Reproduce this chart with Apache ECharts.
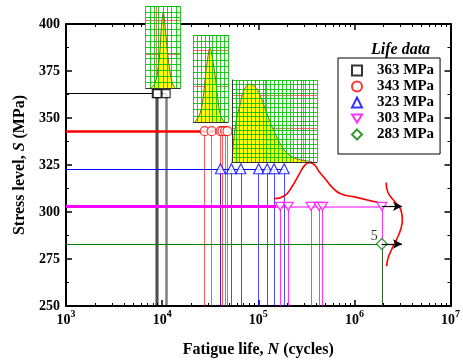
<!DOCTYPE html>
<html>
<head>
<meta charset="utf-8">
<script src="https://cdn.jsdelivr.net/npm/echarts@6/dist/echarts.min.js"></script>
<style>
html, body { margin: 0; padding: 0; background: #fff; }
#chart { width: 463px; height: 363px; }
</style>
</head>
<body>
<div id="chart"></div>
<script>
// fatigue lives (cycles) at each stress level (MPa)
var levels = ['363 MPa', '343 MPa', '323 MPa', '303 MPa', '283 MPa'];
var stress = [363, 343, 323, 303, 283];
var life363 = [8700, 8900, 11000];
var life343 = [27700, 32700, 40500, 42400, 45200, 47800];
var life323 = [40400, 52500, 65900, 101000, 124000, 146000, 186000];
var life303 = [169000, 205000, 354000, 428000, 466000, 1930000];
var life283 = [1930000];
var runoutCount = '5';

// axis ticks
var decades = [3, 4, 5, 6, 7];
var minorFactors = [2, 3, 4, 5, 6, 7, 8, 9];

// inset pdfs of log life, [log10 N, density]
var pdf363 = [[3.881, 0], [3.922, 0.06], [3.956, 0.26], [3.974, 0.46], [3.984, 0.67], [4.008, 0.915],
  [4.033, 0.67], [4.050, 0.46], [4.070, 0.26], [4.102, 0.06], [4.130, 0]];
var pdf343 = [[4.337, 0], [4.389, 0.10], [4.423, 0.29], [4.440, 0.48], [4.461, 0.675], [4.492, 0.847],
  [4.526, 0.675], [4.551, 0.48], [4.572, 0.29], [4.596, 0.10], [4.637, 0]];
var pdf323 = [[4.722, 0], [4.736, 0.25], [4.769, 0.533], [4.803, 0.695], [4.837, 0.857], [4.873, 0.93],
  [4.896, 0.948], [4.959, 0.918], [5.010, 0.817], [5.062, 0.655], [5.114, 0.491], [5.166, 0.35],
  [5.218, 0.228], [5.269, 0.134], [5.339, 0.065], [5.407, 0.033], [5.477, 0.016], [5.549, 0.005]];

// life pdf drawn over the 303 MPa line, [log10 N, S]
var lifePdf303 = [[5.166, 307.1], [5.269, 308.5], [5.355, 313.8], [5.425, 320.0], [5.477, 324.4],
  [5.528, 326.2], [5.580, 325.3], [5.632, 321.6], [5.702, 317.3], [5.767, 313.2], [5.857, 309.7],
  [6.012, 307.9], [6.254, 304.9]];
// strength pdf at the runout life, [log10 N, S]
var stressPdf = [[6.330, 315.7], [6.350, 310.4], [6.427, 305.1], [6.482, 301.4], [6.499, 296.1],
  [6.482, 290.8], [6.440, 285.5], [6.389, 280.2], [6.347, 274.9], [6.337, 271.2]];

var serif = '"Liberation Serif", "DejaVu Serif", serif';
var lg = function (n) { return Math.log10(n); };
var downTriangle = 'path://M0,0L2,0L1,1.6Z';

var minorTicks = [];
decades.slice(0, -1).forEach(function (d) {
  minorFactors.forEach(function (f) { minorTicks.push(d + Math.log10(f)); });
});

// main plot area
var plot = { left: 66, top: 24, width: 386, height: 283 };
var pxPerDecade = plot.width / (decades[decades.length - 1] - decades[0]);

function drops(arr, s, color, width, opacity) {
  return arr.map(function (n) {
    return [{ coord: [lg(n), s], lineStyle: { color: color, width: width, opacity: opacity, type: 'solid' } },
            { coord: [lg(n), 250] }];
  });
}
function hline(s, from, to, color, width, opacity) {
  return [{ coord: [from, s], lineStyle: { color: color, width: width, opacity: opacity, type: 'solid' } }, { coord: [to, s] }];
}
function markLines(data) {
  return {
    silent: true, symbol: ['none', 'none'], label: { show: false }, z: 1, animation: false,
    lineStyle: { type: 'solid' }, data: data
  };
}

function lifeSeries(name, arr, s, color, symbol, size, lines) {
  return {
    name: name, type: 'scatter', xAxisIndex: 0, yAxisIndex: 0, z: 3,
    data: arr.map(function (n) { return [lg(n), s]; }),
    symbol: symbol, symbolSize: size, symbolKeepAspect: true,
    itemStyle: { color: '#fff', borderColor: color, borderWidth: 1.2 },
    markLine: markLines(lines)
  };
}

// inset helpers
var insets = [
  { pdf: pdf363, min: 3.825, max: 4.185, step: 0.045, top: 6, height: 82, rows: 14, reds: [0.83, 0.415], redX: [3.943], left: false },
  { pdf: pdf343, min: 4.32, max: 4.68, step: 0.04, top: 35, height: 87, rows: 14, reds: [0.83, 0.41], redX: [4.482], left: false },
  { pdf: pdf323, min: 4.72, max: 5.6, step: 0.04, top: 80, height: 82, rows: 18, reds: [0.81, 0.41], redX: [4.959, 5.062, 5.456], left: true }
];

var grids = [{ left: plot.left, top: plot.top, width: plot.width, height: plot.height }];
var xAxes = [
  {
    type: 'value', gridIndex: 0, position: 'bottom', min: 3, max: 7, interval: 1,
    axisLine: { lineStyle: { color: '#000', width: 2 } },
    axisTick: { inside: true, length: 6, lineStyle: { color: '#000', width: 1.5 } },
    splitLine: { show: false },
    axisLabel: {
      margin: 3, color: '#000',
      formatter: function (v) { return '{b|10}{s|' + v + '}'; },
      rich: {
        b: { fontFamily: serif, fontSize: 14, fontWeight: 'bold', lineHeight: 22, color: '#000' },
        s: { fontFamily: serif, fontSize: 10, fontWeight: 'bold', verticalAlign: 'top', lineHeight: 12, color: '#000' }
      }
    },
    name: '{a|Fatigue life, }{i|N}{a| (cycles)}', nameLocation: 'middle', nameGap: 36,
    nameTextStyle: {
      rich: {
        a: { fontFamily: serif, fontSize: 16, fontWeight: 'bold', color: '#000' },
        i: { fontFamily: serif, fontSize: 16, fontWeight: 'bold', fontStyle: 'italic', color: '#000' }
      }
    }
  },
  {
    type: 'value', gridIndex: 0, position: 'bottom', min: 3, max: 7,
    axisLine: { show: false },
    axisTick: { inside: true, length: 3, customValues: minorTicks, lineStyle: { color: '#000', width: 1 } },
    axisLabel: { show: false }, splitLine: { show: false }
  },
  {
    type: 'value', gridIndex: 0, position: 'top', min: 3, max: 7, interval: 1,
    axisLine: { lineStyle: { color: '#000', width: 2 } },
    axisTick: { inside: true, length: 6, lineStyle: { color: '#000', width: 1.5 } },
    axisLabel: { show: false }, splitLine: { show: false }
  },
  {
    type: 'value', gridIndex: 0, position: 'top', min: 3, max: 7,
    axisLine: { show: false },
    axisTick: { inside: true, length: 3, customValues: minorTicks, lineStyle: { color: '#000', width: 1 } },
    axisLabel: { show: false }, splitLine: { show: false }
  }
];
var yAxes = [
  {
    type: 'value', gridIndex: 0, position: 'left', min: 250, max: 400, interval: 25,
    axisLine: { lineStyle: { color: '#000', width: 2 } },
    axisTick: { inside: true, length: 6, lineStyle: { color: '#000', width: 1.5 } },
    minorTick: { show: true, splitNumber: 2, length: 3, lineStyle: { color: '#000', width: 1 } },
    splitLine: { show: false },
    axisLabel: { margin: 6, color: '#000', fontFamily: serif, fontSize: 14, fontWeight: 'bold' },
    name: '{a|Stress level, }{i|S}{a| (MPa)}', nameLocation: 'middle', nameGap: 35,
    nameTextStyle: {
      rich: {
        a: { fontFamily: serif, fontSize: 16, fontWeight: 'bold', color: '#000' },
        i: { fontFamily: serif, fontSize: 16, fontWeight: 'bold', fontStyle: 'italic', color: '#000' }
      }
    }
  },
  {
    type: 'value', gridIndex: 0, position: 'right', min: 250, max: 400, interval: 25,
    axisLine: { lineStyle: { color: '#000', width: 2 } },
    axisTick: { inside: true, length: 6, lineStyle: { color: '#000', width: 1.5 } },
    minorTick: { show: true, splitNumber: 2, length: 3, lineStyle: { color: '#000', width: 1 } },
    splitLine: { show: false }, axisLabel: { show: false }
  }
];

var series = [
  lifeSeries(levels[0], life363, stress[0], '#000', 'rect', 8,
    [hline(stress[0], 3, lg(life363[life363.length - 1]), '#000', 1, 1)]
      .concat(drops(life363, stress[0], '#000', 2.5, 0.5))),
  lifeSeries(levels[1], life343, stress[1], '#ff0000', 'circle', 9,
    [hline(stress[1], 3, lg(life343[life343.length - 1]), '#ff0000', 2.5, 1)]
      .concat(drops(life343, stress[1], '#ff0000', 1, 0.65))),
  lifeSeries(levels[2], life323, stress[2], '#0000ff', 'triangle', 10,
    [hline(stress[2], 3, lg(life323[life323.length - 1]), '#0000ff', 1, 1)]
      .concat(drops(life323, stress[2], '#0000ff', 1, 0.7))),
  lifeSeries(levels[3], life303, stress[3], '#ff00ff', downTriangle, 10,
    [hline(stress[3], 3, lg(life303[0]) - 0.04, '#ff00ff', 3, 1),
     hline(stress[3], lg(life303[0]) - 0.04, lg(life303[life303.length - 1]), '#ff00ff', 2, 0.5)]
      .concat(drops(life303, stress[3], '#ff00ff', 1, 0.8))),
  lifeSeries(levels[4], life283, stress[4], '#008000', 'diamond', 11,
    [hline(stress[4], 3, lg(life283[0]), '#008000', 1, 1)]
      .concat(drops(life283, stress[4], '#2f5f2f', 1, 1)))
];
series[4].label = {
  show: true, formatter: runoutCount, position: 'left', distance: 0, offset: [2, -8],
  fontFamily: serif, fontSize: 14, color: '#000'
};

// runout arrows
series.push({
  type: 'line', xAxisIndex: 0, yAxisIndex: 0, data: [], z: 3,
  markLine: {
    silent: true, symbol: ['none', 'arrow'], symbolSize: [7, 9], label: { show: false }, animation: false,
    lineStyle: { color: '#000', width: 1.2, type: 'solid' },
    data: [
      [{ coord: [lg(life303[life303.length - 1]), stress[3]] }, { coord: [lg(life303[life303.length - 1]) + 0.21, stress[3]] }],
      [{ coord: [lg(life283[0]), stress[4]] }, { coord: [lg(life283[0]) + 0.21, stress[4]] }]
    ]
  }
});
series.push({
  type: 'line', xAxisIndex: 0, yAxisIndex: 0, data: lifePdf303, smooth: true, showSymbol: false, z: 2,
  lineStyle: { color: '#ff0000', width: 1.6 }
});
series.push({
  type: 'line', xAxisIndex: 0, yAxisIndex: 0, data: stressPdf, smooth: true, showSymbol: false, z: 2,
  lineStyle: { color: '#ff0000', width: 1.6 }
});

insets.forEach(function (ins, i) {
  grids.push({
    left: plot.left + (ins.min - decades[0]) * pxPerDecade, width: (ins.max - ins.min) * pxPerDecade,
    top: ins.top, height: ins.height, show: true, backgroundColor: '#fff', borderWidth: 0, z: 3
  });
  xAxes.push({
    type: 'value', gridIndex: i + 1, min: ins.min, max: ins.max, interval: ins.step, z: 5,
    axisLine: { show: true, onZero: false, lineStyle: { color: '#333', width: 1 } },
    axisTick: { show: false }, axisLabel: { show: false },
    splitLine: { show: true, lineStyle: { color: 'rgba(0,190,0,0.85)', width: 1 } }
  });
  yAxes.push({
    type: 'value', gridIndex: i + 1, min: 0, max: 1, interval: 1 / ins.rows, z: 5,
    axisLine: { show: ins.left, lineStyle: { color: '#333', width: 1 } },
    axisTick: { show: false }, axisLabel: { show: false },
    splitLine: { show: true, lineStyle: { color: 'rgba(0,190,0,0.85)', width: 1 } }
  });
  series.push({
    type: 'line', xAxisIndex: i + 4, yAxisIndex: i + 2, data: ins.pdf, smooth: 0.4, showSymbol: false, z: 4,
    lineStyle: { color: '#6b6b30', width: 1 },
    areaStyle: { color: '#ffff00', opacity: 1 },
    markLine: {
      silent: true, symbol: ['none', 'none'], label: { show: false }, z: 4, animation: false,
      lineStyle: { color: '#ff3030', width: 1, type: 'solid', opacity: 0.7 },
      data: ins.reds.map(function (v) { return { yAxis: v }; })
        .concat(ins.redX.map(function (v) { return { xAxis: v }; }))
    }
  });
});

var option = {
  animation: false,
  backgroundColor: '#fff',
  textStyle: { fontFamily: serif },
  title: {
    text: 'Life data', left: 366, top: 37,
    textStyle: { fontFamily: serif, fontSize: 16, fontWeight: 'bold', fontStyle: 'italic', color: '#000' }
  },
  legend: {
    data: levels, orient: 'vertical', left: 338, top: 58,
    padding: [5, 6, 12, 13], itemGap: 1, itemWidth: 10, itemHeight: 10,
    borderColor: '#000', borderWidth: 1, backgroundColor: '#fff',
    textStyle: { fontFamily: serif, fontSize: 15, fontWeight: 'bold', color: '#000', lineHeight: 15, padding: [0, 0, 0, 10] }
  },
  grid: grids,
  xAxis: xAxes,
  yAxis: yAxes,
  series: series
};

var chart = echarts.init(document.getElementById('chart'));
chart.setOption(option);
</script>
</body>
</html>
